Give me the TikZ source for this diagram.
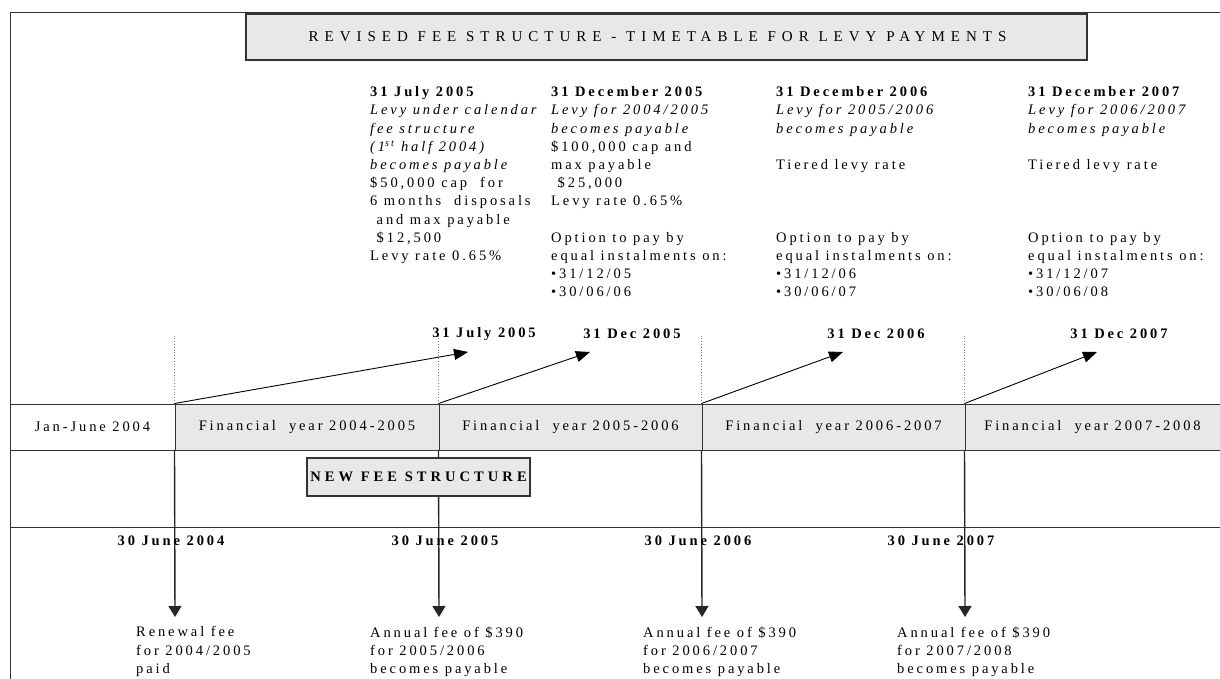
\documentclass[tikz,border=0pt]{standalone}
\usepackage{fontspec}
\setmainfont{Liberation Serif}[LetterSpace=20]
\usetikzlibrary{positioning, arrows.meta, calc}
\definecolor{cellgray}{HTML}{E8E8E8}
\definecolor{rulegray}{HTML}{333333}

\tikzset{
  txt/.style={font=\fontsize{14.5}{18.2}\selectfont, inner sep=0pt},
  coltxt/.style={txt, align=left, anchor=north west},
  datelbl/.style={txt, font=\fontsize{14.5}{18.2}\selectfont\bfseries},
  cell/.style={draw=rulegray, line width=1pt, fill=cellgray, minimum height=46pt, inner sep=0pt, txt},
  titlebox/.style={draw=rulegray, line width=1.2pt, fill=cellgray, inner sep=0pt,
    font=\fontsize{15}{17}\selectfont\addfontfeature{LetterSpace=40}},
  feebox/.style={draw=rulegray, line width=1.2pt, fill=cellgray, inner sep=0pt,
    font=\fontsize{14.5}{16}\selectfont\bfseries\addfontfeature{LetterSpace=28}},
  guide/.style={draw=gray, dotted, line width=0.8pt},
  slantarrow/.style={draw=black, line width=0.9pt, -{Triangle[length=14pt,width=11pt]}},
  downarrow/.style={draw=black!85, line width=1.4pt, -{Triangle[length=11pt,width=13pt]}}
}

\begin{document}
\begin{tikzpicture}[x=1pt, y=-1pt]
    \useasboundingbox (0,0) rectangle (1220,679);

    % Frame
    \draw[rulegray, line width=1pt] (10,679) -- (10,13) -- (1220,13);

    % Title
    \node[titlebox, minimum width=841pt, minimum height=46pt] (hdr) at (666.5,37)
        {REVISED FEE STRUCTURE - TIMETABLE FOR LEVY PAYMENTS\hspace*{18pt}};

    % Levy columns
    \node[coltxt] (coljul) at (370,86.5) {\textbf{31 July 2005}\\
        \textit{Levy under calendar}\\
        \textit{fee structure}\\
        \textit{(1\textsuperscript{st} half 2004)}\\
        \textit{becomes payable}\\
        \$50,000 cap~ for\\
        6 months~ disposals\\
        ~and max payable\\
        ~\$12,500\\
        Levy rate 0.65\%};
    \node[coltxt] (coldec05) at (551,86.5) {\textbf{31 December 2005}\\
        \textit{Levy for 2004/2005}\\
        \textit{becomes payable}\\
        \$100,000 cap and\\
        max payable\\
        ~\$25,000\\
        Levy rate 0.65\%\\[18.2pt]
        Option to pay by\\
        equal instalments on:\\
        \textbullet 31/12/05\\
        \textbullet 30/06/06};
    \node[coltxt] (coldec06) at (776,86.5) {\textbf{31 December 2006}\\
        \textit{Levy for 2005/2006}\\
        \textit{becomes payable}\\[18.2pt]
        Tiered levy rate\\[54.6pt]
        Option to pay by\\
        equal instalments on:\\
        \textbullet 31/12/06\\
        \textbullet 30/06/07};
    \node[coltxt] (coldec07) at (1028,86.5) {\textbf{31 December 2007}\\
        \textit{Levy for 2006/2007}\\
        \textit{becomes payable}\\[18.2pt]
        Tiered levy rate\\[54.6pt]
        Option to pay by\\
        equal instalments on:\\
        \textbullet 31/12/07\\
        \textbullet 30/06/08};

    % Due dates above the band
    \node[datelbl] (lbljul) at (484,334) {31 July 2005};
    \node[datelbl] (lbldec05) at (632,334) {31 Dec 2005};
    \node[datelbl] (lbldec06) at (876,334) {31 Dec 2006};
    \node[datelbl] (lbldec07) at (1119,334) {31 Dec 2007};

    % Year band
    \node[cell, fill=white, minimum width=165pt] (janjun) at (92.5,427) {Jan-June 2004};
    \node[cell, minimum width=264pt] (fy0405) at (307,427) {Financial~ year 2004-2005};
    \node[cell, minimum width=263pt] (fy0506) at (570.5,427) {Financial~ year 2005-2006};
    \node[cell, minimum width=263pt] (fy0607) at (833.5,427) {Financial~ year 2006-2007};
    \node[cell, minimum width=255pt] (fy0708) at (1092.5,427) {Financial~ year 2007-2008};

    % Guides
    \draw[guide] (fy0405.north west) -- (fy0405.north west |- lbljul.center);
    \draw[guide] (fy0506.north west) -- (fy0506.north west |- lbljul.center);
    \draw[guide] (fy0607.north west) -- (fy0607.north west |- lbljul.center);
    \draw[guide] (fy0708.north west) -- (fy0708.north west |- lbljul.center);

    % Levy arrows
    \coordinate (tjul) at (468,352);
    \coordinate (tdec05) at (590,352);
    \coordinate (tdec06) at (843,352);
    \coordinate (tdec07) at (1097,352);
    \draw[slantarrow] (fy0405.north west) -- (tjul);
    \draw[slantarrow] (fy0506.north west) -- (tdec05);
    \draw[slantarrow] (fy0607.north west) -- (tdec06);
    \draw[slantarrow] (fy0708.north west) -- (tdec07);

    % Fee arrows
    \draw[rulegray, line width=1pt] (10,527) -- (1220,527);
    \coordinate (fjun04) at (175,617);
    \coordinate (fjun05) at (439,617);
    \coordinate (fjun06) at (702,617);
    \coordinate (fjun07) at (965,617);
    \draw[downarrow] (fy0405.south west) -- (fjun04);
    \draw[downarrow] (fy0506.south west) -- (fjun05);
    \draw[downarrow] (fy0607.south west) -- (fjun06);
    \draw[downarrow] (fy0708.south west) -- (fjun07);

    \node[feebox, minimum width=223pt, minimum height=38pt] (newfee) at (418.5,477) {NEW FEE STRUCTURE};

    % Fee dates
    \node[datelbl] (lbljun04) at (171,541) {30 June 2004};
    \node[datelbl] (lbljun05) at (445,541) {30 June 2005};
    \node[datelbl] (lbljun06) at (698,541) {30 June 2006};
    \node[datelbl] (lbljun07) at (941,541) {30 June 2007};

    \node[coltxt] (fee04) at (136,626.5) {Renewal fee\\ for 2004/2005\\ paid};
    \node[coltxt] (fee05) at (370,626.5) {Annual fee of \$390\\ for 2005/2006\\ becomes payable};
    \node[coltxt] (fee06) at (643,626.5) {Annual fee of \$390\\ for 2006/2007\\ becomes payable};
    \node[coltxt] (fee07) at (897,626.5) {Annual fee of \$390\\ for 2007/2008\\ becomes payable};
\end{tikzpicture}
\end{document}
